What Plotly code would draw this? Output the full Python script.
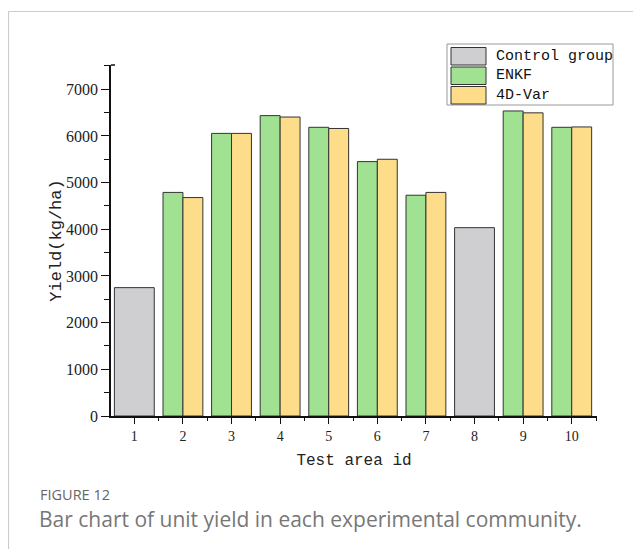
import plotly.graph_objects as go

# ---- data ----
control_x = [1, 8]
control_y = [2750, 4035]
method_x = [2, 3, 4, 5, 6, 7, 9, 10]
enkf_y = [4790, 6055, 6435, 6185, 5450, 4730, 6535, 6185]
var4d_y = [4680, 6055, 6405, 6160, 5500, 4790, 6495, 6193]
xticks = [1, 2, 3, 4, 5, 6, 7, 8, 9, 10]
yticks = [0, 1000, 2000, 3000, 4000, 5000, 6000, 7000]
series_names = ["Control group", "ENKF", "4D-Var"]

C_GRAY = "#cfcfd1"
C_GREEN = "#a0e291"
C_YELLOW = "#fddc8a"
EDGE = "#333333"

# page body has an 8px margin; shift everything so screen pixels match
OX, OY = 8, 8
W, H = 641 - OX, 549 - OY
L, R, T, B = 111 - OX, 597 - OX, 65 - OY, 416 - OY  # plot area (figure pixels)


def px(x):  # screen pixel -> paper x
    return (x - OX - L) / (R - L)


def py(y):  # screen pixel -> paper y
    return (B - (y - OY)) / (B - T)


fig = go.Figure()
fig.add_trace(go.Bar(x=control_x, y=control_y, name=series_names[0], width=0.82, offset=-0.41,
                     marker=dict(color=C_GRAY, line=dict(color=EDGE, width=1)), showlegend=False))
fig.add_trace(go.Bar(x=method_x, y=enkf_y, name=series_names[1], width=0.41, offset=-0.41,
                     marker=dict(color=C_GREEN, line=dict(color=EDGE, width=1)), showlegend=False))
fig.add_trace(go.Bar(x=method_x, y=var4d_y, name=series_names[2], width=0.41, offset=0.0,
                     marker=dict(color=C_YELLOW, line=dict(color=EDGE, width=1)), showlegend=False))

shapes = []
annotations = []
# outer frame lines
shapes.append(dict(type="line", xref="paper", yref="paper", x0=px(8.5), x1=px(660), y0=py(11.5), y1=py(11.5),
                   line=dict(color="#cccccc", width=1.2)))
shapes.append(dict(type="line", xref="paper", yref="paper", x0=px(8.5), x1=px(8.5), y0=py(11.5), y1=py(560),
                   line=dict(color="#cccccc", width=1.2)))
# y axis top cap
shapes.append(dict(type="line", xref="paper", yref="paper", x0=px(111), x1=px(115), y0=1, y1=1,
                   line=dict(color="#111111", width=1.5)))

# custom legend
shapes.append(dict(type="rect", xref="paper", yref="paper", x0=px(447), x1=px(613), y0=py(44), y1=py(105),
                   line=dict(color="#999999", width=1), fillcolor="white"))
rows = [(47.5, 65), (67, 84.5), (86.5, 104)]
colors = [C_GRAY, C_GREEN, C_YELLOW]
for (y0, y1), c, name in zip(rows, colors, series_names):
    shapes.append(dict(type="rect", xref="paper", yref="paper", x0=px(451), x1=px(486), y0=py(y0), y1=py(y1),
                       line=dict(color=EDGE, width=1), fillcolor=c))
    annotations.append(dict(xref="paper", yref="paper", x=px(494), y=py((y0 + y1) / 2), text=name,
                            showarrow=False, xanchor="left", yanchor="middle",
                            font=dict(family="Liberation Mono", size=15, color="#111111")))

# caption
annotations.append(dict(xref="paper", yref="paper", x=px(38), y=py(494), text="FIGURE 12", showarrow=False,
                        xanchor="left", yanchor="middle",
                        font=dict(family="Open Sans", size=14.5, color="#666666")))
annotations.append(dict(xref="paper", yref="paper", x=px(37), y=py(519),
                        text="Bar chart of unit yield in each experimental community.", showarrow=False,
                        xanchor="left", yanchor="middle",
                        font=dict(family="Open Sans", size=21, color="#777777")))

fig.update_layout(
    width=W, height=H,
    margin=dict(l=L, r=W - R, t=T, b=H - B, pad=0),
    paper_bgcolor="white", plot_bgcolor="white",
    barmode="overlay",
    shapes=shapes, annotations=annotations,
    showlegend=False,
)
fig.update_xaxes(
    range=[0.52, 10.52], tickmode="array", tickvals=xticks, ticktext=[str(v) for v in xticks],
    showline=True, linecolor="#111111", linewidth=1.5, ticks="outside", ticklen=6, tickwidth=1.3,
    tickcolor="#111111", showgrid=False, zeroline=False,
    minor=dict(tickmode="array", tickvals=[v + 0.5 for v in range(0, 11)], ticks="outside", ticklen=3,
               tickwidth=1, tickcolor="#111111"),
    tickfont=dict(family="Liberation Serif", size=14, color="#222222"),
    title=dict(text="Test area id", font=dict(family="Liberation Mono", size=16, color="#222222"), standoff=11),
)
fig.update_yaxes(
    range=[0, 7520], tickmode="array", tickvals=yticks, ticktext=[str(v) for v in yticks],
    showline=True, linecolor="#111111", linewidth=1.5, ticks="outside", ticklen=8, tickwidth=1.3,
    tickcolor="#111111", showgrid=False, zeroline=False,
    minor=dict(tickmode="array", tickvals=[v * 500 + 500 for v in range(0, 15, 2)], ticks="outside", ticklen=5,
               tickwidth=1, tickcolor="#111111"),
    tickfont=dict(family="Liberation Serif", size=16, color="#222222"),
    title=dict(text="Yield(kg/ha)", font=dict(family="Liberation Mono", size=17, color="#222222"), standoff=0),
)

fig.write_html("out.html")
